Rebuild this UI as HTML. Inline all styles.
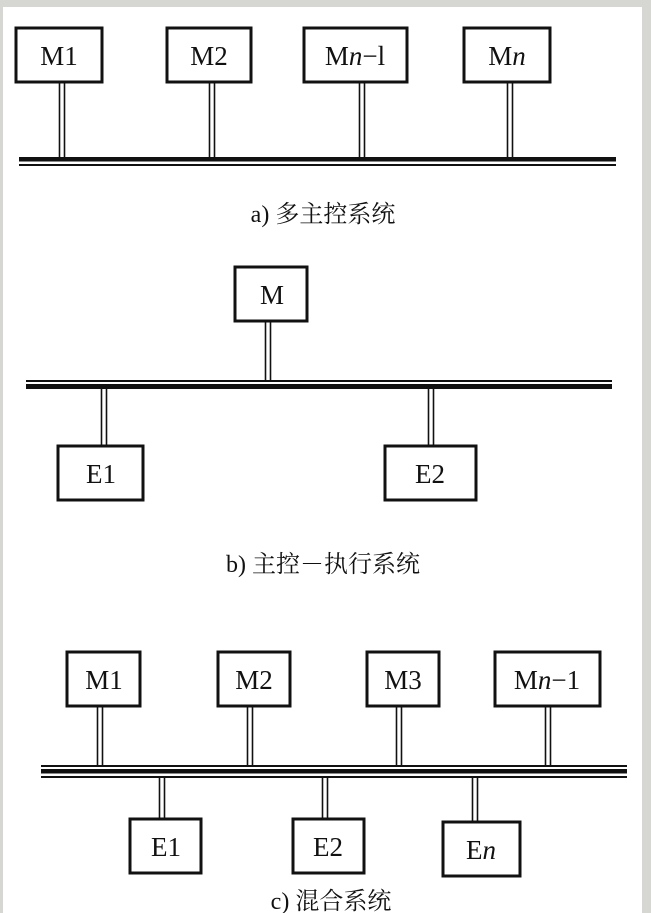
<!DOCTYPE html>
<html><head><meta charset="utf-8"><style>
html,body{margin:0;padding:0;background:#d6d6d2;}
svg{display:block}
text{font-family:"Liberation Serif","Noto Serif CJK SC",serif;fill:#111}
</style></head><body>
<svg width="651" height="913" viewBox="0 0 651 913" xmlns="http://www.w3.org/2000/svg">
<rect x="3" y="7" width="639" height="906" fill="#fff"/>
<g stroke="#111" fill="none">
<!-- a -->
<g stroke-width="3">
<rect x="16" y="28" width="86" height="54"/>
<rect x="167" y="28" width="84" height="54"/>
<rect x="304" y="28" width="103" height="54"/>
<rect x="464" y="28" width="86" height="54"/>
</g>
<g stroke-width="1.6">
<path d="M59.5 82V157M64.5 82V157M209.5 82V157M214.5 82V157M359.5 82V157M364.5 82V157M507.5 82V157M512.5 82V157"/>
</g>
<rect x="19" y="157" width="597" height="4.5" fill="#111" stroke="none"/>
<rect x="19" y="164" width="597" height="2" fill="#111" stroke="none"/>
<!-- b -->
<g stroke-width="3">
<rect x="235" y="267" width="72" height="54"/>
<rect x="58" y="446" width="85" height="54"/>
<rect x="385" y="446" width="91" height="54"/>
</g>
<g stroke-width="1.6">
<path d="M265.5 321V381M270.5 321V381M101.5 389V446M106.5 389V446M428.5 389V446M433.5 389V446"/>
</g>
<rect x="26" y="380" width="586" height="2" fill="#111" stroke="none"/>
<rect x="26" y="384" width="586" height="5" fill="#111" stroke="none"/>
<!-- c -->
<g stroke-width="3">
<rect x="67" y="652" width="73" height="54"/>
<rect x="218" y="652" width="72" height="54"/>
<rect x="367" y="652" width="72" height="54"/>
<rect x="495" y="652" width="105" height="54"/>
<rect x="130" y="819" width="71" height="54"/>
<rect x="293" y="819" width="71" height="54"/>
<rect x="443" y="822" width="77" height="54"/>
</g>
<g stroke-width="1.6">
<path d="M97.5 706V766M102.5 706V766M247.5 706V766M252.5 706V766M396.5 706V766M401.5 706V766M545.5 706V766M550.5 706V766"/>
<path d="M159.5 777V819M164.5 777V819M322.5 777V819M327.5 777V819M472.5 777V822M477.5 777V822"/>
</g>
<rect x="41" y="765" width="586" height="2" fill="#111" stroke="none"/>
<rect x="41" y="769" width="586" height="4.5" fill="#111" stroke="none"/>
<rect x="41" y="776" width="586" height="2" fill="#111" stroke="none"/>
</g>
<g font-size="27" text-anchor="middle">
<text x="59" y="65">M1</text>
<text x="209" y="65">M2</text>
<text x="355" y="65">M<tspan font-style="italic">n</tspan>−l</text>
<text x="507" y="65">M<tspan font-style="italic">n</tspan></text>
<text x="272" y="304">M</text>
<text x="101" y="483">E1</text>
<text x="430" y="483">E2</text>
<text x="104" y="689">M1</text>
<text x="254" y="689">M2</text>
<text x="403" y="689">M3</text>
<text x="547" y="689">M<tspan font-style="italic">n</tspan>−1</text>
<text x="166" y="856">E1</text>
<text x="328" y="856">E2</text>
<text x="481" y="859">E<tspan font-style="italic">n</tspan></text>
</g>
<g font-size="24" text-anchor="middle">
<text x="323" y="222">a) 多主控系统</text>
<text x="323" y="572">b) 主控－执行系统</text>
<text x="331" y="909">c) 混合系统</text>
</g>
</svg>
</body></html>
